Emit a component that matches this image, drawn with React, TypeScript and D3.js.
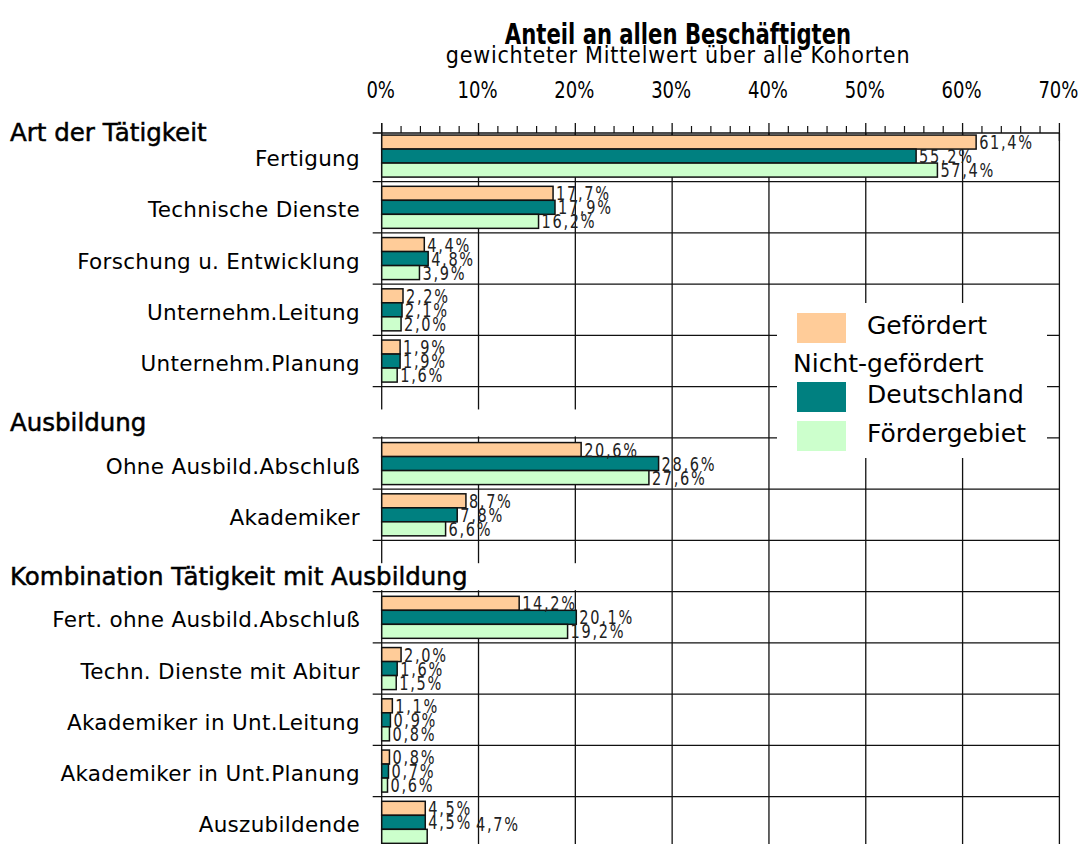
import React, { useEffect, useRef } from 'react'
import * as d3 from 'd3'

// rows of the chart, '' = spacer row under a group header
const rowLabels = [
  'Fertigung',
  'Technische Dienste',
  'Forschung u. Entwicklung',
  'Unternehm.Leitung',
  'Unternehm.Planung',
  '',
  'Ohne Ausbild.Abschluß',
  'Akademiker',
  '',
  'Fert. ohne Ausbild.Abschluß',
  'Techn. Dienste mit Abitur',
  'Akademiker in Unt.Leitung',
  'Akademiker in Unt.Planung',
  'Auszubildende',
]

const gefoerdert = [61.4, 17.7, 4.4, 2.2, 1.9, null, 20.6, 8.7, null, 14.2, 2.0, 1.1, 0.8, 4.5]
const deutschland = [55.2, 17.9, 4.8, 2.1, 1.9, null, 28.6, 7.8, null, 20.1, 1.6, 0.9, 0.7, 4.5]
const foerdergebiet = [57.4, 16.2, 3.9, 2.0, 1.6, null, 27.6, 6.6, null, 19.2, 1.5, 0.8, 0.6, 4.7]

// group headers: text and the row they stand above
const groupHeaders = [
  { text: 'Art der Tätigkeit', row: 0 },
  { text: 'Ausbildung', row: 6 },
  { text: 'Kombination Tätigkeit mit Ausbildung', row: 9 },
]

const seriesNames = ['Gefördert', 'Deutschland', 'Fördergebiet']
const seriesColors = ['#FFCC99', '#008080', '#CCFFCC']

const xTicks = [0, 10, 20, 30, 40, 50, 60, 70]

const W = 1083
const H = 844
const NARROW = "'Liberation Sans Narrow', 'Arial Narrow', 'DejaVu Sans Condensed', sans-serif"
const SANS = "'DejaVu Sans', Verdana, sans-serif"

// squeeze a text horizontally (no narrow font installed)
function condense(sel: any, factor: number) {
  sel.each(function (this: SVGTextElement) {
    const len = this.getComputedTextLength()
    d3.select(this).attr('textLength', len * factor).attr('lengthAdjust', 'spacingAndGlyphs')
  })
  return sel
}

export default function App() {
  const svgRef = useRef<SVGSVGElement>(null)

  useEffect(() => {
    document.body.style.margin = '0'
    if (!svgRef.current) return
    const root = d3.select(svgRef.current)
    root.selectAll('*').remove()

    const axisY = 133
    const x = d3.scaleLinear().domain([0, 70]).range([381.7, 1059.4])
    const rowIds = rowLabels.map((_, i) => String(i))
    const y = d3
      .scaleBand()
      .domain(rowIds)
      .range([130.45, 847.95])
      .paddingInner(0.18)
      .paddingOuter(0.09)
    const half = (y.step() - y.bandwidth()) / 2
    const inner = d3.scaleBand().domain(seriesNames).range([0, y.bandwidth()])

    const g = root.append('g')

    // vertical grid lines
    g.selectAll('.vgrid')
      .data(xTicks.slice(1))
      .join('line')
      .attr('x1', (d) => x(d))
      .attr('x2', (d) => x(d))
      .attr('y1', axisY)
      .attr('y2', H)
      .attr('stroke', '#111')
      .attr('stroke-width', 1.3)

    // horizontal grid lines at row boundaries
    g.selectAll('.hgrid')
      .data(rowIds.slice(1))
      .join('line')
      .attr('x1', x(0) - 9)
      .attr('x2', x(70))
      .attr('y1', (d) => (y(d) as number) - half)
      .attr('y2', (d) => (y(d) as number) - half)
      .attr('stroke', '#111')
      .attr('stroke-width', 1.3)

    // top axis with ticks
    g.append('line')
      .attr('x1', x(0) - 9)
      .attr('x2', x(70))
      .attr('y1', axisY)
      .attr('y2', axisY)
      .attr('stroke', '#111')
      .attr('stroke-width', 1.3)
    g.append('line')
      .attr('x1', x(0))
      .attr('x2', x(0))
      .attr('y1', axisY - 10)
      .attr('y2', H)
      .attr('stroke', '#111')
      .attr('stroke-width', 1.3)
    g.selectAll('.minor')
      .data(d3.range(0, 71, 2).filter((d) => d % 10 !== 0))
      .join('line')
      .attr('x1', (d) => x(d))
      .attr('x2', (d) => x(d))
      .attr('y1', axisY - 7)
      .attr('y2', axisY)
      .attr('stroke', '#111')
      .attr('stroke-width', 1.2)
    g.selectAll('.major')
      .data(xTicks)
      .join('line')
      .attr('x1', (d) => x(d))
      .attr('x2', (d) => x(d))
      .attr('y1', axisY - 10)
      .attr('y2', axisY + 8)
      .attr('stroke', '#111')
      .attr('stroke-width', 1.3)
    const tickLabels = g
      .selectAll('.ticklabel')
      .data(xTicks)
      .join('text')
      .attr('x', (d) => x(d) - 1)
      .attr('y', 98)
      .attr('text-anchor', 'middle')
      .style('font-family', NARROW)
      .style('font-size', '23px')
      .text((d) => `${d}%`)
    condense(tickLabels, 0.87)

    // title
    const title = g
      .append('text')
      .attr('x', 678)
      .attr('y', 44)
      .attr('text-anchor', 'middle')
      .style('font-family', NARROW)
      .style('font-size', '28px')
      .style('font-weight', 'bold')
      .text('Anteil an allen Beschäftigten')
    condense(title, 0.84)
    g.append('text')
      .attr('x', 678)
      .attr('y', 63)
      .attr('text-anchor', 'middle')
      .style('font-family', NARROW)
      .style('font-size', '23px')
      .style('letter-spacing', '0.8px')
      .text('gewichteter Mittelwert über alle Kohorten')

    // bars
    const series = [gefoerdert, deutschland, foerdergebiet]
    const bars = g.append('g')
    series.forEach((vals, si) => {
      bars
        .selectAll(`.bar${si}`)
        .data(vals.map((v, i) => ({ v, i })).filter((d) => d.v !== null))
        .join('rect')
        .attr('x', x(0))
        .attr('y', (d) => (y(String(d.i)) as number) + (inner(seriesNames[si]) as number))
        .attr('width', (d) => x(d.v as number) - x(0))
        .attr('height', inner.bandwidth())
        .attr('fill', seriesColors[si])
        .attr('stroke', '#111')
        .attr('stroke-width', 1.5)
    })

    // value labels
    const labelMaxY = H - 20
    const labels = g.append('g')
    rowIds.forEach((id, i) => {
      let prevEnd = 0
      series.forEach((vals, si) => {
        const v = vals[i]
        if (v === null) return
        const cy = (y(id) as number) + (inner(seriesNames[si]) as number) + inner.bandwidth() / 2
        let lx = x(v) + 3
        let ly = cy
        if (cy > labelMaxY) {
          ly = labelMaxY
          lx = Math.max(lx, prevEnd + 4)
        }
        const t = labels
          .append('text')
          .attr('x', lx)
          .attr('y', ly)
          .attr('dominant-baseline', 'central')
          .style('font-family', NARROW)
          .style('font-size', '19px')
          .style('letter-spacing', '2px')
          .attr('fill', '#222')
          .text(d3.format('.1f')(v).replace('.', ',') + '%')
        const len = (t.node() as SVGTextElement).getComputedTextLength() * 0.85
        t.attr('textLength', len).attr('lengthAdjust', 'spacingAndGlyphs')
        prevEnd = lx + len
      })
    })

    // category labels
    g.selectAll('.cat')
      .data(rowIds.filter((id) => rowLabels[+id] !== ''))
      .join('text')
      .attr('x', 360)
      .attr('y', (d) => (y(d) as number) + y.bandwidth() / 2 + 10)
      .attr('text-anchor', 'end')
      .style('font-family', SANS)
      .style('font-size', '21.5px')
      .style('letter-spacing', '0.3px')
      .text((d) => rowLabels[+d])

    // group headers
    groupHeaders.forEach((h, k) => {
      const top = (y(String(h.row)) as number) - half
      const by = k === 0 ? top + 10.5 : top - 6.5
      if (k > 0) {
        g.append('rect')
          .attr('x', 0)
          .attr('y', by - 22)
          .attr('width', 585)
          .attr('height', 27)
          .attr('fill', '#fff')
      }
      g.append('text')
        .attr('x', 10)
        .attr('y', by)
        .style('font-family', SANS)
        .style('font-size', '24.5px')
        .attr('stroke', '#000')
        .attr('stroke-width', 0.5)
        .text(h.text)
    })

    // legend
    const lg = g.append('g')
    lg.append('rect')
      .attr('x', 777)
      .attr('y', 303)
      .attr('width', 270)
      .attr('height', 155)
      .attr('fill', '#fff')
    const legendRows = [
      { name: seriesNames[0], color: seriesColors[0], y: 313 },
      { name: seriesNames[1], color: seriesColors[1], y: 382 },
      { name: seriesNames[2], color: seriesColors[2], y: 421 },
    ]
    legendRows.forEach((r) => {
      lg.append('rect')
        .attr('x', 797)
        .attr('y', r.y)
        .attr('width', 49)
        .attr('height', 30)
        .attr('fill', r.color)
      lg.append('text')
        .attr('x', 867)
        .attr('y', r.y + 21)
        .style('font-family', SANS)
        .style('font-size', '25px')
        .text(r.name)
    })
    lg.append('text')
      .attr('x', 793)
      .attr('y', 372)
      .style('font-family', SANS)
      .style('font-size', '25px')
      .text('Nicht-gefördert')
  }, [])

  return <svg ref={svgRef} width={W} height={H} style={{ display: 'block', background: '#fff' }} />
}
